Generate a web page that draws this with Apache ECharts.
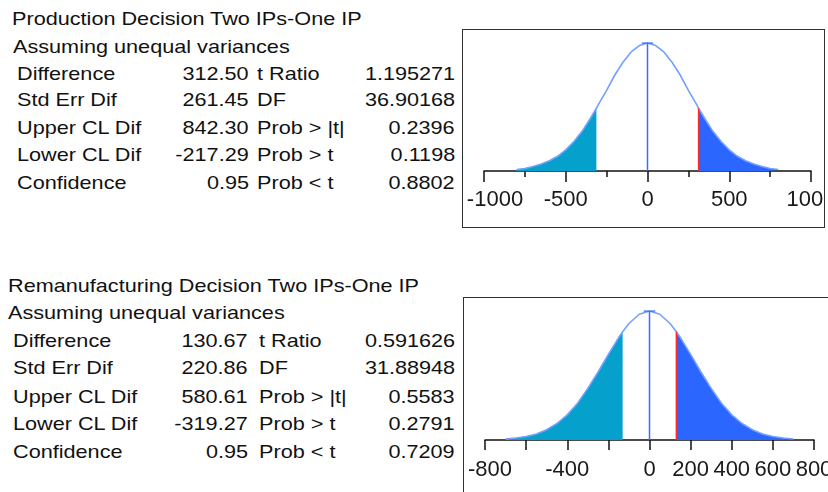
<!DOCTYPE html>
<html>
<head>
<meta charset="utf-8">
<script src="https://cdn.jsdelivr.net/npm/echarts@6/dist/echarts.min.js"></script>
<style>
    html, body { margin: 0; padding: 0; background: #fff; }
    body { width: 828px; height: 492px; position: relative; overflow: hidden; font-family: "Liberation Sans", Arial, sans-serif; }
    .t { position: absolute; font-size: 18.5px; line-height: 22px; height: 22px; color: #111; white-space: pre; }
    .box { position: absolute; border: 1px solid #333; background: #fff; }
</style>
</head>
<body>

<div class="box" id="chartProd" style="left:462px;top:29px;width:361px;height:197px;"></div>
<div class="box" id="chartReman" style="left:463px;top:297px;width:366px;height:196px;"></div>

<script>
    // 表格数据
    var rowLabels = ['Difference', 'Std Err Dif', 'Upper CL Dif', 'Lower CL Dif', 'Confidence'];
    var statLabels = ['t Ratio', 'DF', 'Prob > |t|', 'Prob > t', 'Prob < t'];

    var prodTitle = 'Production Decision Two IPs-One IP';
    var prodValues = ['312.50', '261.45', '842.30', '-217.29', '0.95'];
    var prodStats = ['1.195271', '36.90168', '0.2396', '0.1198', '0.8802'];

    var remanTitle = 'Remanufacturing Decision Two IPs-One IP';
    var remanValues = ['130.67', '220.86', '580.61', '-319.27', '0.95'];
    var remanStats = ['0.591626', '31.88948', '0.5583', '0.2791', '0.7209'];

    var subTitle = 'Assuming unequal variances';

    // 曲线数据 (相对高度, 从图上估读)
    var prodT = 312.5;
    var prodCurveX = [-800, -750, -700, -650, -600, -550, -500, -450, -400, -350, -312.5, -300, -250, -200, -150, -100, -50, 0,
        50, 100, 150, 200, 250, 300, 312.5, 350, 400, 450, 500, 550, 600, 650, 700, 750, 800];
    var prodCurveY = [0.012, 0.02, 0.035, 0.055, 0.08, 0.115, 0.165, 0.23, 0.31, 0.41, 0.49, 0.52, 0.63, 0.75, 0.85, 0.93, 0.98, 1.00,
        0.98, 0.93, 0.85, 0.75, 0.63, 0.52, 0.49, 0.41, 0.31, 0.23, 0.165, 0.115, 0.08, 0.055, 0.035, 0.02, 0.012];

    var remanT = 130.67;
    var remanCurveX = [-700, -650, -600, -550, -500, -450, -400, -350, -300, -250, -200, -150, -130.67, -100, -50, 0,
        50, 100, 130.67, 150, 200, 250, 300, 350, 400, 450, 500, 550, 600, 650, 700];
    var remanCurveY = [0.008, 0.015, 0.027, 0.047, 0.08, 0.128, 0.195, 0.285, 0.40, 0.527, 0.664, 0.794, 0.839, 0.903, 0.975, 1.0,
        0.975, 0.903, 0.839, 0.794, 0.664, 0.527, 0.40, 0.285, 0.195, 0.128, 0.08, 0.047, 0.027, 0.015, 0.008];

    var prodShownTicks = [-1000, -500, 0, 500, 1000];
    var remanShownTicks = [-800, -400, 0, 200, 400, 600, 800];

    // 文字
    function put(text, x, cy, align) {
        var s = document.createElement('div');
        s.className = 't';
        s.textContent = text;
        s.style.top = (cy - 11) + 'px';
        if (align === 'right') {
            s.style.right = (828 - x) + 'px';
            s.style.transformOrigin = 'right center';
        } else {
            s.style.left = x + 'px';
            s.style.transformOrigin = 'left center';
        }
        s.style.transform = 'scaleX(1.17)';
        document.body.appendChild(s);
    }

    function table(title, values, stats, pos) {
        put(title, pos.titleX, pos.titleY);
        put(subTitle, pos.subX, pos.subY);
        for (var i = 0; i < rowLabels.length; i++) {
            var y = pos.rows[i];
            put(rowLabels[i], pos.labelX, y);
            put(values[i], pos.valueR, y, 'right');
            put(statLabels[i], pos.statX, y);
            put(stats[i], pos.statR, y, 'right');
        }
    }

    table(prodTitle, prodValues, prodStats, {
        titleX: 12, titleY: 19, subX: 13, subY: 47,
        rows: [74, 100, 128, 155, 183], labelX: 17, valueR: 249, statX: 257, statR: 455
    });
    table(remanTitle, remanValues, remanStats, {
        titleX: 8, titleY: 286, subX: 8, subY: 313,
        rows: [341, 368, 397, 424, 452], labelX: 13, valueR: 248, statX: 259, statR: 455
    });

    // 图
    function pairs(xs, ys, test) {
        var out = [];
        for (var i = 0; i < xs.length; i++) {
            if (!test || test(xs[i])) out.push([xs[i], ys[i]]);
        }
        return out;
    }

    function heightAt(xs, ys, x) {
        return ys[xs.indexOf(x)];
    }

    function makeOption(xs, ys, t, axis, grid, cap) {
        grid.containLabel = false;
        grid.outerBoundsMode = 'none';
        return {
            animation: false,
            grid: grid,
            xAxis: {
                type: 'value',
                min: axis.min,
                max: axis.max,
                interval: axis.interval,
                axisLine: { show: true, onZero: false, lineStyle: { color: '#111', width: 1.5 } },
                axisTick: { show: true, length: axis.tickLen, lineStyle: { color: '#111', width: 1.5 } },
                minorTick: { show: axis.minor, splitNumber: 2, length: 6, lineStyle: { color: '#111', width: 1.5 } },
                splitLine: { show: false },
                minorSplitLine: { show: false },
                axisLabel: {
                    fontSize: 22,
                    color: '#1a1a1a',
                    fontFamily: 'Liberation Sans',
                    margin: axis.margin,
                    hideOverlap: false,
                    formatter: function (v) {
                        if (axis.shown.indexOf(v) < 0) return '';
                        // 最左边的标签往框内挪
                        return v === axis.min ? '{first|' + v + '}' : String(v);
                    },
                    rich: {
                        first: { fontSize: 22, color: '#1a1a1a', fontFamily: 'Liberation Sans', padding: [0, 0, 0, axis.firstShift * 2] }
                    }
                }
            },
            yAxis: { type: 'value', min: 0, max: 1, show: false },
            series: [
                {
                    type: 'line',
                    data: pairs(xs, ys, function (v) { return v <= -t; }),
                    symbol: 'none',
                    lineStyle: { width: 0 },
                    areaStyle: { color: '#05A1CC', opacity: 1 }
                },
                {
                    type: 'line',
                    data: pairs(xs, ys, function (v) { return v >= t; }),
                    symbol: 'none',
                    lineStyle: { width: 0 },
                    areaStyle: { color: '#2A66FF', opacity: 1 }
                },
                {
                    type: 'line',
                    data: pairs(xs, ys),
                    symbol: 'none',
                    lineStyle: { color: '#74A0FF', width: 1.6 }
                },
                {
                    type: 'line',
                    data: [[0, 0], [0, 1]],
                    symbol: 'none',
                    lineStyle: { color: '#3C6DFF', width: 1.5 }
                },
                {
                    type: 'line',
                    data: [[-cap, 1], [cap, 1]],
                    symbol: 'none',
                    lineStyle: { color: '#3C6DFF', width: 1.5 }
                },
                {
                    type: 'line',
                    data: [[t, 0], [t, heightAt(xs, ys, t)]],
                    symbol: 'none',
                    lineStyle: { color: '#FF2B2B', width: 1.5 }
                }
            ]
        };
    }

    var chartProd = echarts.init(document.getElementById('chartProd'));
    chartProd.setOption(makeOption(prodCurveX, prodCurveY, prodT,
        { min: -1000, max: 1000, interval: 500, tickLen: 11, minor: true, margin: 18, shown: prodShownTicks, firstShift: 11 },
        { left: 21, right: 13, top: 13, bottom: 56 }, 35));

    var chartReman = echarts.init(document.getElementById('chartReman'));
    chartReman.setOption(makeOption(remanCurveX, remanCurveY, remanT,
        { min: -800, max: 800, interval: 200, tickLen: 10, minor: false, margin: 19, shown: remanShownTicks, firstShift: 5 },
        { left: 21, right: 16, top: 13, bottom: 54 }, 28));

    window.addEventListener('resize', function () {
        chartProd.resize();
        chartReman.resize();
    });
</script>
</body>
</html>
